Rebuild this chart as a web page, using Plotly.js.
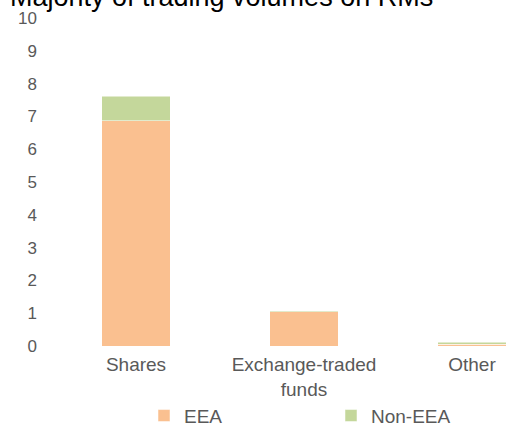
<!DOCTYPE html>
<html>
<head>
<meta charset="utf-8">
<script src="https://cdn.plot.ly/plotly-3.0.1.min.js"></script>
<style>html,body{margin:0;padding:0;background:#fff;}#chart{width:506px;height:423px;}</style>
</head>
<body>
<div id="chart"></div>
<script>
var categories = ["Shares", "Exchange-traded<br>funds", "Other"];
var eea = [6.87, 1.05, 0.05];
var nonEea = [0.75, 0.03, 0.07];
var yTicks = [0, 1, 2, 3, 4, 5, 6, 7, 8, 9, 10];

var font = "Liberation Sans, Arial, sans-serif";
var grey = "#595959";

var traces = [
  {type: "bar", name: "EEA", x: categories, y: eea,
   marker: {color: "#FAC090", line: {color: "rgba(255,255,255,0.5)", width: 1}}},
  {type: "bar", name: "Non-EEA", x: categories, y: nonEea,
   marker: {color: "#C4D79B", line: {color: "rgba(255,255,255,0.5)", width: 1}}}
];

var layout = {
  width: 506, height: 423,
  paper_bgcolor: "#fff", plot_bgcolor: "#fff",
  barmode: "stack", bargap: 0.595,
  margin: {l: 52, r: 0, t: 18, b: 77},
  font: {family: font, color: grey, size: 19},
  title: {text: "Majority of trading volumes on RMs", font: {family: font, size: 27, color: "#000"},
          xref: "container", yref: "container", x: 10/506, xanchor: "left",
          y: 1 - 5.7/423, yanchor: "bottom", pad: {t: 0, b: 0, l: 0, r: 0}},
  xaxis: {type: "category", range: [-0.5, 2.2024], showgrid: false, zeroline: false, showline: false,
          ticks: "", ticklabelstandoff: 5, tickfont: {size: 19, color: grey}, fixedrange: true},
  yaxis: {range: [0, 10], tickvals: yTicks, ticktext: yTicks.map(String), showgrid: false, zeroline: false,
          showline: false, ticks: "", ticklabelstandoff: 14, tickfont: {size: 17, color: grey}},
  showlegend: true,
  legend: {orientation: "h", xref: "container", yref: "container", x: 144/506, xanchor: "left",
           y: 7.3/423, yanchor: "middle", entrywidth: 142, entrywidthmode: "pixels",
           font: {size: 19, color: grey}, traceorder: "normal", bgcolor: "rgba(0,0,0,0)"}
};

Plotly.newPlot("chart", traces, layout, {displayModeBar: false, staticPlot: true});
</script>
</body>
</html>
